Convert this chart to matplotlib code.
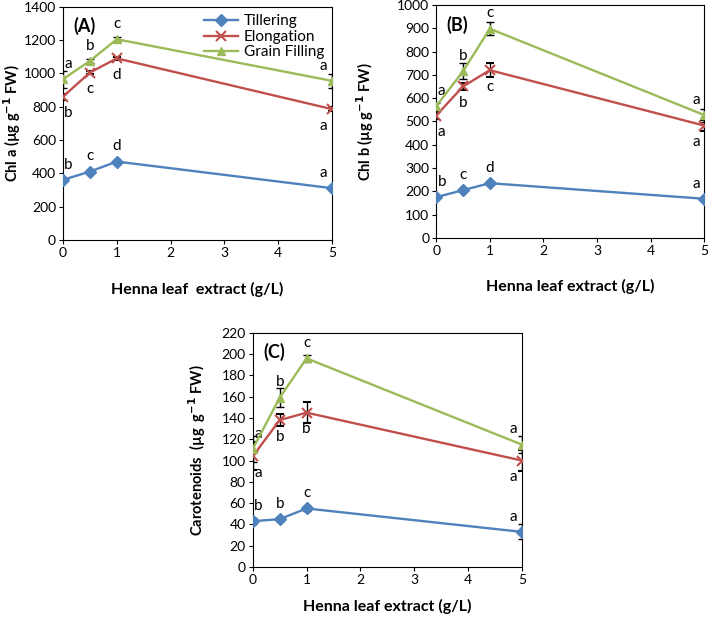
import matplotlib.pyplot as plt
from matplotlib.lines import Line2D

plt.rcParams['font.family'] = ['Lato', 'DejaVu Sans']

dose = [0, 0.5, 1, 5]
series_names = ['Tillering', 'Elongation', 'Grain Filling']
colors = ['#4F81BD', '#C0504D', '#9BBB59']
markers = ['D', 'x', '^']

# Chl a
chla = [[360, 410, 470, 310],
        [860, 1005, 1090, 785],
        [965, 1075, 1205, 955]]
chla_err = [[8, 8, 8, 8],
            [18, 10, 10, 10],
            [50, 10, 12, 40]]
chla_let = [['b', 'c', 'd', 'a'],
            ['b', 'c', 'd', 'a'],
            ['a', 'b', 'c', 'a']]

# Chl b
chlb = [[175, 205, 235, 168],
        [525, 650, 720, 482],
        [565, 715, 898, 527]]
chlb_err = [[5, 5, 5, 5],
            [15, 15, 30, 25],
            [15, 35, 28, 28]]
chlb_let = [['b', 'c', 'd', 'a'],
            ['a', 'b', 'c', 'a'],
            ['a', 'b', 'c', 'a']]

# Carotenoids
car = [[43, 45, 55, 33],
       [104, 138, 145, 100],
       [111, 159, 196, 115]]
car_err = [[3, 2, 2, 7],
           [13, 6, 10, 10],
           [12, 9, 3, 8]]
car_let = [['b', 'b', 'c', 'a'],
           ['a', 'b', 'b', 'a'],
           ['a', 'b', 'c', 'a']]

# letter placement: Tillering and Grain above, Elongation below
let_side = [1, -1, 1]


def panel(ax, vals, errs, lets, ymax, ystep, tag, ylabel, xlabel, xpad, ylx):
    for i in range(3):
        ax.errorbar(dose, vals[i], yerr=errs[i], color=colors[i],
                    marker=markers[i], markersize=6 if i != 1 else 7,
                    mew=1.5 if i == 1 else 1, lw=1.7, ecolor='black',
                    elinewidth=1, capsize=3, capthick=1, zorder=3)
        for x, y, t in zip(dose, vals[i], lets[i]):
            dx = 4 if x == 0 else (-6 if x == 5 else 0)
            dy = 11 if let_side[i] > 0 else -12
            ax.annotate(t, (x, y), xytext=(dx, dy), textcoords='offset points',
                        ha='center', va='center', fontsize=11)
    ax.set_xlim(0, 5)
    ax.set_ylim(0, ymax)
    ax.set_xticks(range(6))
    ax.set_yticks(range(0, ymax + 1, ystep))
    ax.tick_params(direction='out', length=3, labelsize=10, pad=2)
    ax.text(0.04, 0.955, tag, transform=ax.transAxes, fontsize=13,
            fontweight='bold', va='top')
    ax.set_ylabel(ylabel, fontsize=10.5, fontweight='bold')
    ax.yaxis.set_label_coords(ylx, 0.5)
    ax.set_xlabel(xlabel, fontsize=11.5, fontweight='bold', labelpad=xpad)
    for s in ax.spines.values():
        s.set_linewidth(0.8)


fig = plt.figure(figsize=(7.08, 6.18), dpi=100)
axA = fig.add_axes([0.089, 0.612, 0.380, 0.377])
axB = fig.add_axes([0.616, 0.615, 0.379, 0.377])
axC = fig.add_axes([0.357, 0.0825, 0.380, 0.379])

panel(axA, chla, chla_err, chla_let, 1400, 200, '(A)',
      r'Chl a (µg g$^{\mathbf{-1}}$ FW)', 'Henna leaf  extract (g/L)', 17, -0.15)
panel(axB, chlb, chlb_err, chlb_let, 1000, 100, '(B)',
      r'Chl b (µg g$^{\mathbf{-1}}$ FW)', 'Henna leaf extract (g/L)', 16, -0.224)
panel(axC, car, car_err, car_let, 220, 20, '(C)',
      r'Carotenoids  (µg  g$^{\mathbf{-1}}$ FW)', 'Henna leaf extract (g/L)', 9, -0.165)

handles = [Line2D([], [], color=c, marker=m, lw=1.7,
                  markersize=6 if m != 'x' else 7, mew=1.5 if m == 'x' else 1)
           for c, m in zip(colors, markers)]
axA.legend(handles, series_names, loc='upper right', frameon=False, fontsize=11,
           handlelength=2.2, borderaxespad=0.1, labelspacing=0.1,
           handletextpad=0.4)

fig.savefig('out.png', dpi=100)
